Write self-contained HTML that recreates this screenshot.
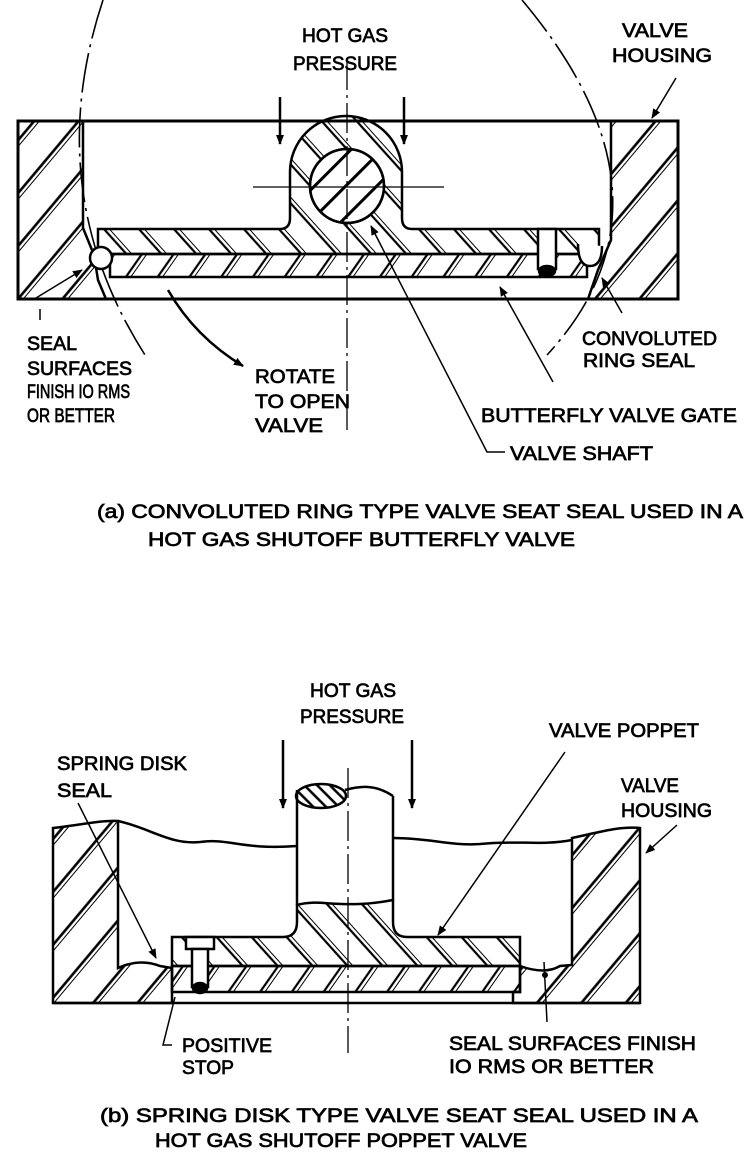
<!DOCTYPE html>
<html><head><meta charset="utf-8"><style>
html,body{margin:0;padding:0;background:#fff;}
svg{display:block;}
text{font-family:"Liberation Sans",sans-serif;font-size:19px;fill:#000;stroke:#000;stroke-width:0.7;}
</style></head><body>
<svg width="754" height="1171" viewBox="0 0 754 1171" xmlns="http://www.w3.org/2000/svg">
<defs>
<pattern id="hh" width="34" height="34" patternUnits="userSpaceOnUse" patternTransform="rotate(40)"><line x1="2" y1="0" x2="2" y2="34" stroke="#000" stroke-width="2.6"/><line x1="6" y1="0" x2="6" y2="34" stroke="#000" stroke-width="1"/></pattern>
<pattern id="hu" width="26" height="26" patternUnits="userSpaceOnUse" patternTransform="rotate(-42)"><line x1="2" y1="0" x2="2" y2="26" stroke="#000" stroke-width="2.2"/><line x1="6" y1="0" x2="6" y2="26" stroke="#000" stroke-width="1"/></pattern>
<pattern id="hl" width="26" height="26" patternUnits="userSpaceOnUse" patternTransform="rotate(35)"><line x1="2" y1="0" x2="2" y2="26" stroke="#000" stroke-width="2.2"/><line x1="6" y1="0" x2="6" y2="26" stroke="#000" stroke-width="1"/></pattern>
<pattern id="hs" width="22" height="22" patternUnits="userSpaceOnUse" patternTransform="rotate(45)"><line x1="2" y1="0" x2="2" y2="22" stroke="#000" stroke-width="3"/></pattern>
<pattern id="hb" width="9" height="9" patternUnits="userSpaceOnUse" patternTransform="rotate(-45)"><line x1="2" y1="0" x2="2" y2="9" stroke="#000" stroke-width="2.5"/></pattern>
<marker id="ar" markerWidth="10" markerHeight="10" refX="9" refY="5" orient="auto" markerUnits="userSpaceOnUse"><path d="M0,1 L10,5 L0,9 Z" fill="#000"/></marker>
</defs>

<g stroke="#000" fill="none" stroke-width="2.5">
<path d="M103,0 Q40,190 145,355" stroke-width="1.6" stroke-dasharray="40 6 3 6"/>
<path d="M522,0 Q690,200 547,355" stroke-width="1.6" stroke-dasharray="40 6 3 6"/>
<path d="M18,121 L83,121 L83,228 L94,255 L98,280 L106,299 L18,299 Z" fill="url(#hh)"/>
<path d="M611,121 L678,121 L678,299 L588,299 L598,270 L611,240 Z" fill="url(#hh)"/>
<rect x="18" y="121" width="660" height="178" stroke-width="3"/>
<path d="M98,229 L280,229 Q290,229 290,218 L290,172 A56,56 0 0 1 402,172 L402,218 Q402,229 412,229 L599,229 L599,254 L98,254 Z" fill="url(#hu)"/>
<rect x="110" y="254" width="477" height="23" fill="url(#hl)"/>
<circle cx="347" cy="186" r="37" fill="#fff"/>
<circle cx="347" cy="186" r="37" fill="url(#hs)"/>
<circle cx="101" cy="258" r="11" fill="#fff"/>
<path d="M578,244 Q578,266 590,266 Q602,266 602,246" fill="#fff"/>
<rect x="538" y="229" width="18" height="40" fill="#fff"/>
<ellipse cx="547" cy="271" rx="8" ry="5" fill="#000"/>
<line x1="347" y1="60" x2="347" y2="430" stroke-width="1.3" stroke-dasharray="30 5 3 5"/>
<line x1="253" y1="187" x2="444" y2="187" stroke-width="1.3"/>
<line x1="280" y1="97" x2="280" y2="144" marker-end="url(#ar)"/>
<line x1="404" y1="97" x2="404" y2="144" marker-end="url(#ar)"/>
<line x1="676" y1="78" x2="652" y2="118" stroke-width="1.5" marker-end="url(#ar)"/>
<line x1="36" y1="298" x2="82" y2="270" stroke-width="1.5" marker-end="url(#ar)"/>
<line x1="40" y1="309" x2="40" y2="320" stroke-width="1.5"/>
<path d="M168,290 Q195,337 243,366" marker-end="url(#ar)"/>
<path d="M505,452 L487,452 L371,226" stroke-width="1.5" marker-end="url(#ar)"/>
<line x1="553" y1="382" x2="500" y2="287" stroke-width="1.5" marker-end="url(#ar)"/>
<line x1="622" y1="313" x2="602" y2="278" stroke-width="1.5" marker-end="url(#ar)"/>

<path d="M53,828 C75,826 100,820 118,821 L118,968 Q140,958 160,966 L172,968 L172,1003 L53,1003 Z" fill="url(#hh)"/>
<path d="M572,838 C600,832 620,826 640,828 L640,1003 L513,1003 L513,992 L520,992 L520,966 Q545,975 560,966 L572,965 Z" fill="url(#hh)"/>
<path d="M118,821 C150,828 170,845 200,842 C230,838 240,850 297,846" />
<path d="M393,838 C430,838 450,846 480,844 C520,840 540,846 572,840"/>
<line x1="53" y1="1003" x2="640" y2="1003"/>
<rect x="172" y="966" width="348" height="26" fill="url(#hl)"/>
<path d="M172,937 L283,937 Q297,937 297,922 L297,905 C320,898 340,910 393,900 L393,922 Q393,937 407,937 L520,937 L520,966 L172,966 Z" fill="url(#hu)"/>
<path d="M297,905 L297,790 M393,900 L393,796"/>
<path d="M345,790 C360,786 375,784 393,796"/>
<ellipse cx="321" cy="796" rx="25" ry="12" fill="url(#hb)"/>
<rect x="186" y="937" width="28" height="12" fill="#fff"/>
<rect x="192" y="949" width="16" height="38" fill="#fff"/>
<ellipse cx="200" cy="988" rx="7" ry="5" fill="#000"/>
<line x1="348" y1="768" x2="348" y2="1053" stroke-width="1.3" stroke-dasharray="30 5 3 5"/>
<line x1="283" y1="740" x2="283" y2="808" marker-end="url(#ar)"/>
<line x1="412" y1="740" x2="412" y2="808" marker-end="url(#ar)"/>
<line x1="78" y1="803" x2="156" y2="958" stroke-width="1.5" marker-end="url(#ar)"/>
<line x1="565" y1="752" x2="438" y2="935" stroke-width="1.5" marker-end="url(#ar)"/>
<line x1="677" y1="825" x2="646" y2="853" stroke-width="1.5" marker-end="url(#ar)"/>
<line x1="547" y1="1022" x2="544" y2="962" stroke-width="1.5"/>
<circle cx="545" cy="975" r="3" fill="#000" stroke="none"/>
<path d="M175,997 L163,1045 L172,1045" stroke-width="1.5"/>
</g>

<text x="302" y="42" textLength="86" lengthAdjust="spacingAndGlyphs">HOT GAS</text>
<text x="293" y="70" textLength="104" lengthAdjust="spacingAndGlyphs">PRESSURE</text>
<text x="622" y="37" textLength="66" lengthAdjust="spacingAndGlyphs">VALVE</text>
<text x="612" y="62" textLength="100" lengthAdjust="spacingAndGlyphs">HOUSING</text>
<text x="27" y="350" textLength="50" lengthAdjust="spacingAndGlyphs">SEAL</text>
<text x="27" y="375" textLength="105" lengthAdjust="spacingAndGlyphs">SURFACES</text>
<text x="27" y="398" textLength="103" lengthAdjust="spacingAndGlyphs">FINISH IO RMS</text>
<text x="27" y="422" textLength="88" lengthAdjust="spacingAndGlyphs">OR BETTER</text>
<text x="255" y="383" textLength="80" lengthAdjust="spacingAndGlyphs">ROTATE</text>
<text x="255" y="408" textLength="95" lengthAdjust="spacingAndGlyphs">TO OPEN</text>
<text x="255" y="432" textLength="68" lengthAdjust="spacingAndGlyphs">VALVE</text>
<text x="582" y="345" textLength="135" lengthAdjust="spacingAndGlyphs">CONVOLUTED</text>
<text x="583" y="367" textLength="112" lengthAdjust="spacingAndGlyphs">RING SEAL</text>
<text x="481" y="422" textLength="256" lengthAdjust="spacingAndGlyphs">BUTTERFLY VALVE GATE</text>
<text x="510" y="460" textLength="143" lengthAdjust="spacingAndGlyphs">VALVE SHAFT</text>
<text x="97" y="518" textLength="646" lengthAdjust="spacingAndGlyphs">(a) CONVOLUTED RING TYPE VALVE SEAT  SEAL USED IN A</text>
<text x="148" y="546" textLength="427" lengthAdjust="spacingAndGlyphs">HOT GAS SHUTOFF  BUTTERFLY VALVE</text>

<text x="310" y="697" textLength="86" lengthAdjust="spacingAndGlyphs">HOT GAS</text>
<text x="300" y="723" textLength="104" lengthAdjust="spacingAndGlyphs">PRESSURE</text>
<text x="57" y="770" textLength="130" lengthAdjust="spacingAndGlyphs">SPRING DISK</text>
<text x="57" y="797" textLength="55" lengthAdjust="spacingAndGlyphs">SEAL</text>
<text x="549" y="737" textLength="150" lengthAdjust="spacingAndGlyphs">VALVE POPPET</text>
<text x="621" y="792" textLength="58" lengthAdjust="spacingAndGlyphs">VALVE</text>
<text x="621" y="817" textLength="91" lengthAdjust="spacingAndGlyphs">HOUSING</text>
<text x="182" y="1052" textLength="90" lengthAdjust="spacingAndGlyphs">POSITIVE</text>
<text x="182" y="1074" textLength="52" lengthAdjust="spacingAndGlyphs">STOP</text>
<text x="449" y="1050" textLength="247" lengthAdjust="spacingAndGlyphs">SEAL SURFACES FINISH</text>
<text x="449" y="1073" textLength="205" lengthAdjust="spacingAndGlyphs">IO RMS OR BETTER</text>
<text x="100" y="1122" textLength="598" lengthAdjust="spacingAndGlyphs">(b)  SPRING DISK TYPE VALVE SEAT SEAL USED IN A</text>
<text x="155" y="1147" textLength="372" lengthAdjust="spacingAndGlyphs">HOT GAS SHUTOFF POPPET VALVE</text>
</svg>
</body></html>
